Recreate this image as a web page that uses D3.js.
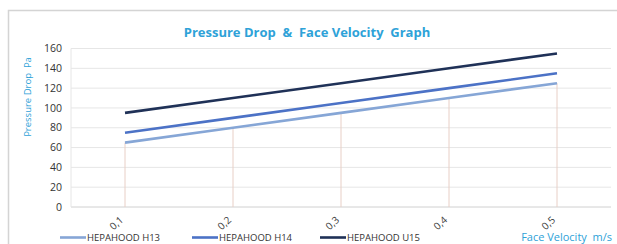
<!DOCTYPE html>
<html>
<head>
<meta charset="utf-8">
<script src="https://cdn.jsdelivr.net/npm/d3@7"></script>
<style>
  body { margin: 0; background: #fff; }
  svg { display: block; }
</style>
</head>
<body>
<div id="chart"></div>
<script>
// data
var categories = ["0,1", "0,2", "0,3", "0,4", "0,5"];
var seriesNames = ["HEPAHOOD H13", "HEPAHOOD H14", "HEPAHOOD U15"];
var h13 = [65, 80, 95, 110, 125];
var h14 = [75, 90, 105, 120, 135];
var u15 = [95, 110, 125, 140, 155];
var yTicks = [0, 20, 40, 60, 80, 100, 120, 140, 160];
var colors = ["#86a6d6", "#4c72c6", "#1f3157"];

var W = 617, H = 244;
var margin = {top: 48.5, right: 6, bottom: 37, left: 71};
var width = W - margin.left - margin.right,
    height = H - margin.top - margin.bottom;

var svg = d3.select("#chart").append("svg")
    .attr("width", W)
    .attr("height", H);

// outer chart frame
svg.append("rect")
    .attr("x", 8.5).attr("y", 10.5)
    .attr("width", W + 10).attr("height", H + 10)
    .attr("fill", "#fff")
    .attr("stroke", "#d4d4d4")
    .attr("stroke-width", 1.5);

var g = svg.append("g")
    .attr("transform", "translate(" + margin.left + "," + margin.top + ")");

var x = d3.scaleBand().domain(categories).range([0, width]);
var y = d3.scaleLinear().domain([0, 160]).range([height, 0]);

// gridlines
g.append("g").selectAll("line")
    .data(yTicks)
    .enter().append("line")
    .attr("x1", 0).attr("x2", width)
    .attr("y1", d => y(d)).attr("y2", d => y(d))
    .attr("stroke", d => d == 0 ? "#d0d0d0" : "#e6e6e6")
    .attr("stroke-width", 1);

// left axis line
g.append("line")
    .attr("x1", 0).attr("x2", 0)
    .attr("y1", 0).attr("y2", height)
    .attr("stroke", "#e6e6e6");

// y tick labels
g.append("g").selectAll("text")
    .data(yTicks)
    .enter().append("text")
    .attr("x", -9)
    .attr("y", d => y(d))
    .attr("dy", "0.35em")
    .attr("text-anchor", "end")
    .attr("font-family", "Open Sans, sans-serif")
    .attr("font-size", 10.5)
    .attr("fill", "#333")
    .text(d => d);

var cx = d => x(d) + x.bandwidth() / 2;

// drop lines from the lowest series down to the axis
g.append("g").selectAll("line")
    .data(categories)
    .enter().append("line")
    .attr("x1", d => cx(d)).attr("x2", d => cx(d))
    .attr("y1", (d, i) => y(h13[i])).attr("y2", y(0))
    .attr("stroke", "#e8cfc6")
    .attr("stroke-width", 1);

// series lines
var line = d3.line()
    .x((d, i) => cx(categories[i]))
    .y(d => y(d));

[h13, h14, u15].forEach(function(s, k) {
    g.append("path")
        .datum(s)
        .attr("d", line)
        .attr("fill", "none")
        .attr("stroke", colors[k])
        .attr("stroke-width", 2.6);
});

// x tick labels, rotated
g.append("g").selectAll("text")
    .data(categories)
    .enter().append("text")
    .attr("transform", d => "translate(" + (cx(d) - 1) + "," + (height + 14) + ") rotate(-42)")
    .attr("text-anchor", "end")
    .attr("font-family", "Open Sans, sans-serif")
    .attr("font-size", 10)
    .attr("fill", "#404040")
    .text(d => d);

// title
svg.append("text")
    .attr("x", 307).attr("y", 37)
    .attr("text-anchor", "middle")
    .attr("font-family", "Open Sans, sans-serif")
    .attr("font-weight", "bold")
    .attr("font-size", 13)
    .attr("fill", "#2ea2d8")
    .attr("xml:space", "preserve")
    .text("Pressure Drop  &  Face Velocity  Graph");

// y axis title
svg.append("text")
    .attr("transform", "translate(31,97) rotate(-90)")
    .attr("text-anchor", "middle")
    .attr("font-family", "Open Sans, sans-serif")
    .attr("font-size", 9.5)
    .attr("fill", "#2ea2d8")
    .attr("xml:space", "preserve")
    .text("Pressure Drop  Pa");

// x axis title
svg.append("text")
    .attr("x", 612).attr("y", 241)
    .attr("text-anchor", "end")
    .attr("font-family", "Open Sans, sans-serif")
    .attr("font-size", 11)
    .attr("fill", "#2ea2d8")
    .attr("xml:space", "preserve")
    .text("Face Velocity  m/s");

// legend
var legendX = [60, 192, 320];
var legend = svg.append("g").selectAll("g")
    .data(seriesNames)
    .enter().append("g")
    .attr("transform", (d, i) => "translate(" + legendX[i] + ",237.5)");

legend.append("line")
    .attr("x1", 0).attr("x2", 26)
    .attr("stroke", (d, i) => colors[i])
    .attr("stroke-width", 2.6);

legend.append("text")
    .attr("x", 27)
    .attr("y", 3.5)
    .attr("font-family", "Open Sans, sans-serif")
    .attr("font-size", 9.5)
    .attr("fill", "#333")
    .text(d => d);
</script>
</body>
</html>
